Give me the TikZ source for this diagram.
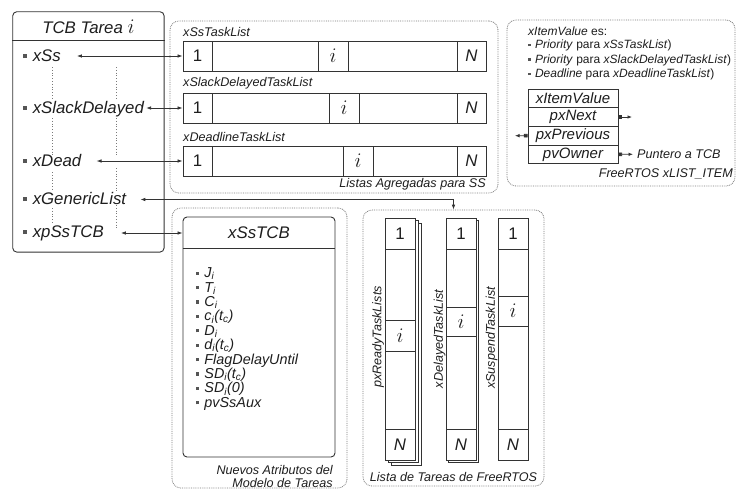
\documentclass[tikz,border=0pt]{standalone}
\usepackage{fontspec}
\setmainfont{Liberation Sans}
\usetikzlibrary{arrows.meta}
\definecolor{lc}{HTML}{333333}
\definecolor{fc}{HTML}{7A7A7A}
\definecolor{tc}{HTML}{1E1E1E}
\definecolor{bc}{HTML}{555555}
\newcommand\bsq{\textcolor{bc}{\rule[0.2em]{0.22em}{0.22em}}\hspace{0.35em}}
\newcommand\fBig{\fontsize{16.8}{19}\selectfont\itshape}
\newcommand\fSm{\fontsize{12.6}{15}\selectfont\itshape}
\newcommand\fTab{\fontsize{15}{17}\selectfont\itshape}
\newcommand\fTop{\fontsize{12}{14}\selectfont}
\newcommand\fAttr{\fontsize{14.4}{14.4}\selectfont\itshape}
\newcommand\mi{{\fontsize{21}{24}\selectfont$i$}}
\newcommand\cbox[7][]{\node[cell,#1, minimum width={#5pt-#3pt}, minimum height={#6pt-#4pt}] (#2) at ({(#3+#5)/2},{(#4+#6)/2}) {#7};}
\newcommand\frm[5]{\node[frame, minimum width={#4pt-#2pt}, minimum height={#5pt-#3pt}] (#1) at ({(#2+#4)/2},{(#3+#5)/2}) {};}
\tikzset{
  ln/.style={draw=lc, line width=0.9pt},
  cell/.style={ln, rectangle, inner sep=0pt, text=tc, font=\fBig},
  frame/.style={draw=fc, densely dotted, line width=0.8pt, rounded corners=9pt, rectangle, inner sep=0pt},
  item/.style={anchor=west, inner sep=1pt, text=tc, font=\fBig, text height=12pt, text depth=2pt},
  attrlist/.style={anchor=north west, align=left, inner sep=0pt, text=tc, font=\fAttr},
  small/.style={inner sep=0pt, text=tc, font=\fSm},
  toptxt/.style={anchor=west, inner sep=0pt, text=tc, font=\fTop},
  dbl/.style={{Latex[length=5pt,width=3.6pt]}-{Latex[length=5pt,width=3.6pt]}, line width=0.8pt, draw=lc},
  sqa/.style={{Square[length=3.6pt,width=3.6pt]}-{Latex[length=4.5pt,width=3.6pt]}, line width=0.8pt, draw=lc},
  vdots/.style={draw=fc, dotted, line width=0.8pt},
  bigbox/.style={ln, rectangle, rounded corners=4pt, inner sep=0pt},
  shadowbox/.style={ln, fill=white}
}
\begin{document}
\begin{tikzpicture}[x=1pt, y=-1pt]
\fill[white] (0,0) rectangle (736,491);
\useasboundingbox (0,0) rectangle (736,491);

% ---------- frames ----------
\frm{frA}{170}{21}{498}{193}
\frm{frB}{507}{20}{735}{186}
\frm{frC}{172}{208}{347}{488}
\frm{frD}{363}{210}{544}{486}

% ---------- TCB Tarea i ----------
\node[bigbox, minimum width=151.3pt, minimum height=240.3pt] (tcb) at (88.4,131.9) {};
\draw[ln] ([yshift=-29.3pt]tcb.north west) -- ([yshift=-29.3pt]tcb.north east);
\node[text=tc, font=\fBig, inner sep=0pt] (tcbT) at (88.4,27) {TCB Tarea \mi};
\node[item] (tSs) at (22,56.5) {\bsq xSs};
\node[item] (tSD) at (22,108) {\bsq xSlackDelayed};
\node[item] (tDe) at (22,161.5) {\bsq xDead};
\node[item] (tGe) at (22,199.5) {\bsq xGenericList};
\node[item] (tpS) at (22,232.5) {\bsq xpSsTCB};
\draw[vdots] (52,67) -- (52,100);
\draw[vdots] (52,118) -- (52,155);
\draw[vdots] (52,172) -- (52,190);
\draw[vdots] (52,208) -- (52,223);
\draw[vdots] (116,67) -- (116,100);
\draw[vdots] (116,118) -- (116,155);
\draw[vdots] (116,168) -- (116,192);
\draw[vdots] (116,205) -- (116,230);

% ---------- aggregated lists ----------
\node[small, anchor=west] (lA) at (183,32) {xSsTaskList};
\cbox{ra1}{183}{41}{212}{71}{\upshape 1}
\cbox{ra2}{212}{41}{318}{71}{}
\cbox{ra3}{318}{41}{348}{71}{\mi}
\cbox{ra4}{348}{41}{457}{71}{}
\cbox{ra5}{457}{41}{486}{71}{N}
\node[small, anchor=west] (lB) at (183,83.5) {xSlackDelayedTaskList};
\cbox{rb1}{183}{93}{212}{123}{\upshape 1}
\cbox{rb2}{212}{93}{329}{123}{}
\cbox{rb3}{329}{93}{359}{123}{\mi}
\cbox{rb4}{359}{93}{457}{123}{}
\cbox{rb5}{457}{93}{486}{123}{N}
\node[small, anchor=west] (lC) at (183,136.5) {xDeadlineTaskList};
\cbox{rc1}{183}{146}{212}{176}{\upshape 1}
\cbox{rc2}{212}{146}{343}{176}{}
\cbox{rc3}{343}{146}{373}{176}{\mi}
\cbox{rc4}{373}{146}{457}{176}{}
\cbox{rc5}{457}{146}{486}{176}{N}
\node[small, anchor=east] (lAg) at (486,184) {Listas Agregadas para SS};

% ---------- xLIST_ITEM ----------
\node[toptxt] (iv) at (528,31.5) {\textit{xItemValue} es:};
\node[toptxt] (p1) at (528,45.5) {\bsq\textit{Priority} para \textit{xSsTaskList})};
\node[toptxt] (p2) at (528,60) {\bsq\textit{Priority} para \textit{xSlackDelayedTaskList})};
\node[toptxt] (p3) at (528,74.5) {\bsq\textit{Deadline} para \textit{xDeadlineTaskList})};
\cbox[font=\fTab]{tv}{528}{89}{618}{107.7}{xItemValue}
\cbox[font=\fTab]{tn}{528}{107.7}{618}{126.3}{pxNext}
\cbox[font=\fTab]{tp}{528}{126.3}{618}{145}{pxPrevious}
\cbox[font=\fTab]{to}{528}{145}{618}{163.7}{pvOwner}
\coordinate (nxE) at (632,117);
\coordinate (pvE) at (515,135.7);
\node[small, anchor=west] (pun) at (637,154.3) {Puntero a TCB};
\draw[sqa] (tn.east) -- (nxE);
\draw[sqa] (tp.west) -- (pvE);
\draw[sqa, shorten >=4pt] (to.east) -- (pun.west);
\node[small, anchor=east] (frl) at (733,174) {FreeRTOS xLIST\_ITEM};

% ---------- xSsTCB ----------
\node[bigbox, minimum width=152pt, minimum height=240pt] (sst) at (259,337) {};
\draw[ln] ([yshift=-32pt]sst.north west) -- ([yshift=-32pt]sst.north east);
\node[text=tc, font=\fBig, inner sep=0pt] (sstT) at (259,233) {xSsTCB};
\node[attrlist] (attrs) at (196,267.5) {%
\bsq J\textsubscript{i}\\
\bsq T\textsubscript{i}\\
\bsq C\textsubscript{i}\\
\bsq c\textsubscript{i}(t\textsubscript{c})\\
\bsq D\textsubscript{i}\\
\bsq d\textsubscript{i}(t\textsubscript{c})\\
\bsq FlagDelayUntil\\
\bsq SD\textsubscript{i}(t\textsubscript{c})\\
\bsq SD\textsubscript{i}(0)\\
\bsq pvSsAux};
\node[small, anchor=east] (nA1) at (333,470) {Nuevos Atributos del};
\node[small, anchor=east] (nA2) at (333,483) {Modelo de Tareas};

% ---------- FreeRTOS lists ----------
\draw[shadowbox] (391,223) rectangle (421,465);
\draw[shadowbox] (388,220.5) rectangle (418,462.5);
\draw[shadowbox] (448.5,220.5) rectangle (478.5,462.5);
\cbox[fill=white]{ca1}{385}{218}{415}{249}{\upshape 1}
\cbox[fill=white]{ca2}{385}{249}{415}{320}{}
\cbox[fill=white]{ca3}{385}{320}{415}{351}{\mi}
\cbox[fill=white]{ca4}{385}{351}{415}{429}{}
\cbox[fill=white]{ca5}{385}{429}{415}{460}{N}
\cbox[fill=white]{cb1}{446}{218}{476}{249}{\upshape 1}
\cbox[fill=white]{cb2}{446}{249}{476}{307}{}
\cbox[fill=white]{cb3}{446}{307}{476}{336}{\mi}
\cbox[fill=white]{cb4}{446}{336}{476}{429}{}
\cbox[fill=white]{cb5}{446}{429}{476}{460}{N}
\cbox[fill=white]{cc1}{498}{218}{528}{249}{\upshape 1}
\cbox[fill=white]{cc2}{498}{249}{528}{296}{}
\cbox[fill=white]{cc3}{498}{296}{528}{326}{\mi}
\cbox[fill=white]{cc4}{498}{326}{528}{429}{}
\cbox[fill=white]{cc5}{498}{429}{528}{460}{N}
\node[small, rotate=90] (vR) at (378,337) {pxReadyTaskLists};
\node[small, rotate=90] (vD) at (439.5,339) {xDelayedTaskList};
\node[small, rotate=90] (vS) at (491.5,338) {xSuspendTaskList};
\node[small] (lTF) at (453.5,477) {Lista de Tareas de FreeRTOS};

% ---------- connectors ----------
\draw[dbl, shorten <=15pt] (tSs.east |- ra1.west) -- (ra1.west);
\draw[dbl, shorten <=1pt] (tSD.east |- rb1.west) -- (rb1.west);
\draw[dbl, shorten <=14pt] (tDe.east |- rc1.west) -- (rc1.west);
\draw[dbl, shorten <=13pt] (tGe.east) -| (frD.north);
\draw[dbl, shorten <=16pt] (tpS.east |- sstT) -- (sst.west |- sstT);
\end{tikzpicture}
\end{document}
